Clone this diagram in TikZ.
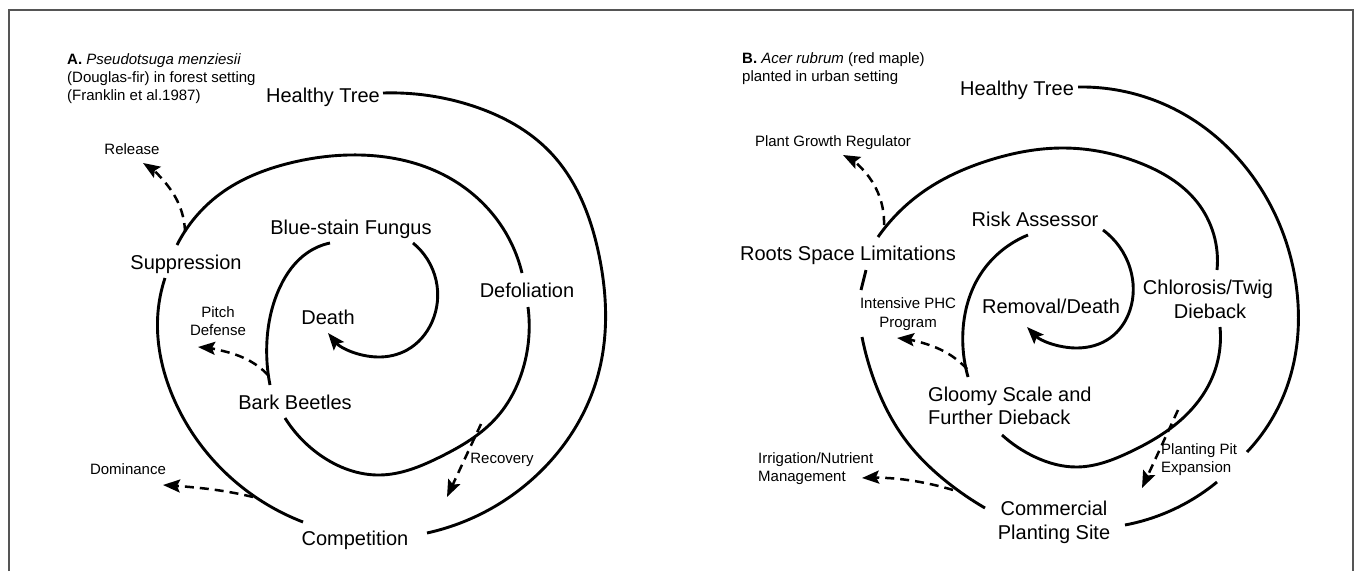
\documentclass[tikz,border=0pt]{standalone}
\usepackage{fontspec}
\setmainfont{Liberation Sans}
\usetikzlibrary{arrows.meta,hobby}
\definecolor{framegray}{RGB}{85,85,85}
\begin{document}
\begin{tikzpicture}[x=1pt,y=-1pt,
  spiral/.style={line width=2.9pt, black},
  tipped/.style={-{Stealth[length=17pt,width=13pt,inset=3pt]}},
  dasharrow/.style={line width=2.5pt, dash pattern=on 9pt off 6pt, -{Stealth[length=17pt,width=13pt,inset=3pt]}},
  big/.style={font=\fontsize{20}{24}\selectfont, inner sep=0pt, anchor=base},
  small/.style={font=\fontsize{15}{18}\selectfont, inner sep=0pt, anchor=base},
  smallL/.style={small, anchor=base west},
]
\useasboundingbox (0,0) rectangle (1356,571);
\draw[line width=1.3pt, framegray] (9,571) -- (9,10) -- (1353,10) -- (1353,571);

% ---------------- Panel A ----------------
\node[smallL] (titA1) at (67,64) {\textbf{A.} \textit{Pseudotsuga menziesii}};
\node[smallL] (titA2) at (67,82) {(Douglas-fir) in forest setting};
\node[smallL] (titA3) at (67,100) {(Franklin et al.1987)};

\node[big] (htA) at (323,102) {Healthy Tree};
\node[big] (compA) at (355,545) {Competition};
\node[big] (suppA) at (186,269) {Suppression};
\node[big] (defolA) at (527,297) {Defoliation};
\node[big] (barkA) at (295,409) {Bark Beetles};
\node[big] (fungA) at (351,234) {Blue-stain Fungus};
\node[big] (deathA) at (328,324) {Death};

\node[small] (relA) at (132,154) {Release};
\node[small] (pitchA1) at (218,317) {Pitch};
\node[small] (pitchA2) at (218,335) {Defense};
\node[small] (domA) at (128,474) {Dominance};
\node[small] (recA) at (502,463) {Recovery};

\draw[spiral] (383,93) to[curve through={(473,106) (550,152) (599,255) (598,375) (540,472)}] (427,533);
\draw[spiral] (303,522) to[curve through={(230,477) (173,397) (158,312)}] (165,278);
\draw[spiral] (177,245) to[curve through={(220,194) (290,163) (360,155) (440,173) (495,217)}] (522,273);
\draw[spiral] (528,307) to[curve through={(522,372) (497,417) (440,457) (380,475) (320,455)}] (285,418);
\draw[spiral] (270,385) to[curve through={(267,340) (280,287) (307,253)}] (330,243);
\draw[spiral, tipped] (413,243) to[curve through={(436,280) (432,322) (407,350) (378,357)}] (328,333);

\draw[dasharrow] (185,232) to[curve through={(180,207) (168,186)}] (143,163);
\draw[dasharrow] (268,375) to[curve through={(250,361) (227,352)}] (198,347);
\draw[dasharrow] (253,497) to[curve through={(223,491) (190,487)}] (163,485);
\draw[dasharrow] (481,424) -- (447,497);

% ---------------- Panel B ----------------
\node[smallL] (titB1) at (742,63) {\textbf{B.} \textit{Acer rubrum} (red maple)};
\node[smallL] (titB2) at (742,81) {planted in urban setting};

\node[big] (htB) at (1017,95) {Healthy Tree};
\node[big] (rootsB) at (848,260) {Roots Space Limitations};
\node[big] (riskB) at (1035,226) {Risk Assessor};
\node[big] (remB) at (1051,313) {Removal/Death};
\node[big] (chlB1) at (1208,294) {Chlorosis/Twig};
\node[big] (chlB2) at (1210,318) {Dieback};
\node[big, anchor=base west] (glB1) at (928,401) {Gloomy Scale and};
\node[big, anchor=base west] (glB2) at (928,424) {Further Dieback};
\node[big] (comB1) at (1054,515) {Commercial};
\node[big] (comB2) at (1054,539) {Planting Site};

\node[small] (pgrB) at (833,146) {Plant Growth Regulator};
\node[small] (phcB1) at (908,308) {Intensive PHC};
\node[small] (phcB2) at (908,327) {Program};
\node[smallL] (irrB1) at (758,463) {Irrigation/Nutrient};
\node[smallL] (irrB2) at (758,481) {Management};
\node[smallL] (pitB1) at (1161,454) {Planting Pit};
\node[smallL] (pitB2) at (1161,472) {Expansion};

\draw[spiral] (1078,87) to[curve through={(1180,112) (1263,192) (1297,292) (1285,392)}] (1247,452);
\draw[spiral] (1217,482) to[curve through={(1170,511)}] (1125,525);
\draw[spiral] (985,508) to[curve through={(947,482) (907,442) (874,380)}] (862,337);
\draw[spiral] (861,290) -- (866,270);
\draw[spiral] (878,237) to[curve through={(920,194) (990,160) (1063,148) (1140,163) (1197,202)}] (1217,270);
\draw[spiral] (1220,327) to[curve through={(1212,378) (1183,418) (1130,452) (1077,467) (1035,457)}] (1002,435);
\draw[spiral] (968,377) to[curve through={(963,330) (980,275) (1000,252)}] (1028,235);
\draw[spiral, tipped] (1103,230) to[curve through={(1130,268) (1130,310) (1110,338) (1077,348)}] (1027,327);

\draw[dasharrow] (884,225) to[curve through={(880,198) (869,177)}] (843,155);
\draw[dasharrow] (967,369) to[curve through={(947,353) (923,343)}] (897,338);
\draw[dasharrow] (953,490) to[curve through={(920,482) (887,478)}] (862,478);
\draw[dasharrow] (1178,410) -- (1142,488);
\end{tikzpicture}
\end{document}
